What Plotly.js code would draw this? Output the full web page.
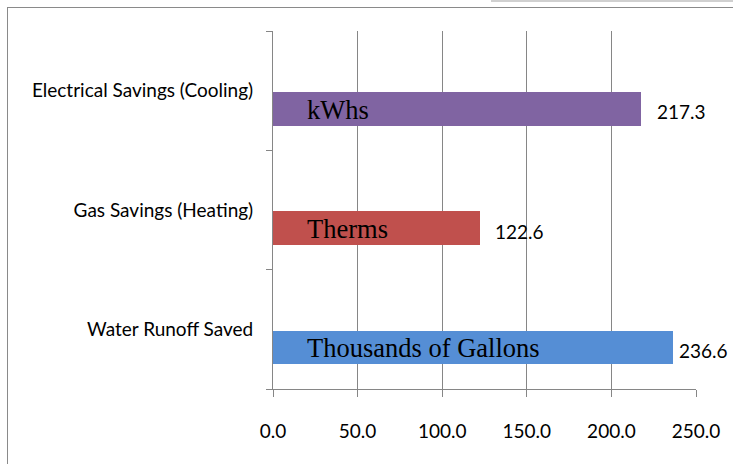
<!DOCTYPE html>
<html>
<head>
<meta charset="utf-8">
<script src="https://cdn.plot.ly/plotly-3.0.1.min.js"></script>
<style>
  html, body { margin: 0; padding: 0; background: #fff; }
  #wrap { position: relative; width: 733px; height: 464px; overflow: hidden; }
  #frame { position: absolute; left: 7px; top: 7px; width: 760px; height: 500px;
           border-left: 1.5px solid #8a8a8a; border-top: 1.5px solid #8a8a8a; box-sizing: border-box; }
  #topline { position: absolute; left: 491px; top: 0px; width: 250px; height: 1.5px; background: #d0d0d0; }
  #chart { position: absolute; left: 0; top: 0; width: 733px; height: 464px; }
</style>
</head>
<body>
<div id="wrap">
  <div id="frame"></div>
  <div id="topline"></div>
  <div id="chart"></div>
</div>
<script>
// Data (bottom to top, as the category axis is drawn)
const categories = ['Water Runoff Saved', 'Gas Savings (Heating)', 'Electrical Savings (Cooling)'];
const values = [236.6, 122.6, 217.3];
const units = ['Thousands of Gallons', 'Therms', 'kWhs'];
const valueLabels = ['236.6', '122.6', '217.3'];
const xTickVals = [0, 50, 100, 150, 200, 250];
const xTickText = ['0.0', '50.0', '100.0', '150.0', '200.0', '250.0'];

// Styles
const barColors = ['#558ED5', '#C0504D', '#8064A2'];
const valueShift = [4, 13, 14];
const gridColor = '#868686';
const labelFont = {family: 'Lato, "Open Sans", sans-serif', size: 19, color: '#000'};

const trace = {
  type: 'bar',
  orientation: 'h',
  y: categories,
  x: values,
  width: 0.282,
  offset: -0.292,
  marker: {color: barColors, line: {width: 0}},
  hoverinfo: 'none',
  cliponaxis: false
};

const annotations = [];
categories.forEach((c, i) => {
  annotations.push({
    x: 0, y: c, xref: 'x', yref: 'y',
    text: units[i], showarrow: false,
    xanchor: 'left', yanchor: 'middle',
    xshift: 32, yshift: -19,
    font: {family: '"Liberation Serif", "Times New Roman", serif', size: 26.5, color: '#000'}
  });
  annotations.push({
    x: values[i], y: c, xref: 'x', yref: 'y',
    text: valueLabels[i], showarrow: false,
    xanchor: 'left', yanchor: 'middle',
    xshift: valueShift[i], yshift: -21,
    font: labelFont
  });
});

const layout = {
  width: 733, height: 464,
  margin: {l: 273, r: 37, t: 31, b: 75, pad: 0},
  paper_bgcolor: 'rgba(0,0,0,0)',
  plot_bgcolor: 'rgba(0,0,0,0)',
  showlegend: false,
  bargap: 0,
  xaxis: {
    range: [0, 250],
    tickvals: xTickVals,
    ticktext: xTickText,
    showgrid: true, gridcolor: gridColor, gridwidth: 1,
    zeroline: false,
    showline: true, linecolor: gridColor, linewidth: 1,
    ticks: 'outside', ticklen: 7, tickcolor: gridColor, tickwidth: 1,
    ticklabelstandoff: 18,
    tickfont: labelFont,
    fixedrange: true
  },
  yaxis: {
    type: 'category',
    categoryorder: 'array', categoryarray: categories,
    range: [-0.5, 2.5],
    showgrid: false, zeroline: false,
    showline: true, linecolor: gridColor, linewidth: 1,
    ticks: 'outside', ticklen: 6, tickcolor: gridColor, tickwidth: 1,
    tickson: 'boundaries',
    ticklabelstandoff: 15,
    tickfont: labelFont,
    fixedrange: true
  },
  annotations: annotations
};

Plotly.newPlot('chart', [trace], layout, {displayModeBar: false, staticPlot: true});
</script>
</body>
</html>
